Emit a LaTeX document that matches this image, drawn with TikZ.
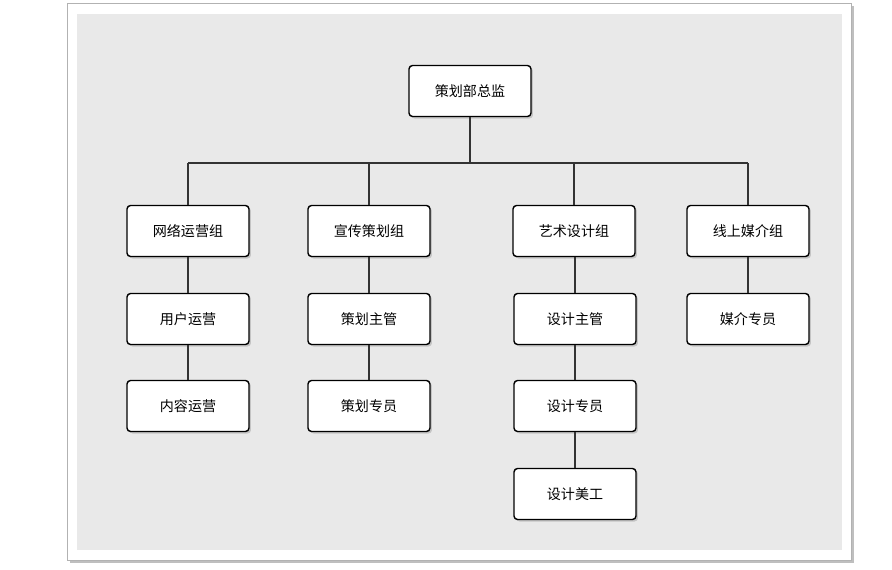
\documentclass[tikz,border=0pt]{standalone}
\usepackage{fontspec}
\setmainfont{Noto Sans CJK SC}
\usetikzlibrary{shadows, positioning}
\tikzset{
  post/.style={draw=black, fill=white, thick, rounded corners=2pt, minimum width=2.44cm, minimum height=1.02cm, font=\fontsize{8}{10}\selectfont, drop shadow={opacity=0.35, shadow xshift=0.04cm, shadow yshift=-0.04cm}},
  link/.style={draw=black!80, thick}
}
\begin{document}
\begin{tikzpicture}[x=0.02cm, y=-0.02cm]
				\useasboundingbox (0,0) rectangle (892,569);
				% frame and panel
				\fill[black!25] (70,6) rectangle (854,563);
				\filldraw[fill=white, draw=black!30] (67,3) rectangle (851,560);
				\fill[gray!17] (77,14) rectangle (842,550);
				% posts
				\node[post] (chief) at (470,91) {策划部总监};
				\node[post] (net) at (188,231) {网络运营组};
				\node[post] (pub) at (369,231) {宣传策划组};
				\node[post] (art) at (574,231) {艺术设计组};
				\node[post] (media) at (748,231) {线上媒介组};
				\node[post] (user) at (188,319) {用户运营};
				\node[post] (content) at (188,406) {内容运营};
				\node[post] (pubmgr) at (369,319) {策划主管};
				\node[post] (pubstaff) at (369,406) {策划专员};
				\node[post] (artmgr) at (575,319) {设计主管};
				\node[post] (artstaff) at (575,406) {设计专员};
				\node[post] (artist) at (575,494) {设计美工};
				\node[post] (mediastaff) at (748,319) {媒介专员};
				% bus
				\coordinate (bus) at (470,163);
				\draw[link] (chief) -- (bus);
				\draw[link] (net.north |- bus) -- (media.north |- bus);
				\foreach \g in {net, pub, art, media}
					\draw[link] (\g.north |- bus) -- (\g.north);
				% columns
				\draw[link] (net) -- (user);
				\draw[link] (user) -- (content);
				\draw[link] (pub) -- (pubmgr);
				\draw[link] (pubmgr) -- (pubstaff);
				\draw[link] (art.south -| artmgr) -- (artmgr);
				\draw[link] (artmgr) -- (artstaff);
				\draw[link] (artstaff) -- (artist);
				\draw[link] (media) -- (mediastaff);
			\end{tikzpicture}
\end{document}
